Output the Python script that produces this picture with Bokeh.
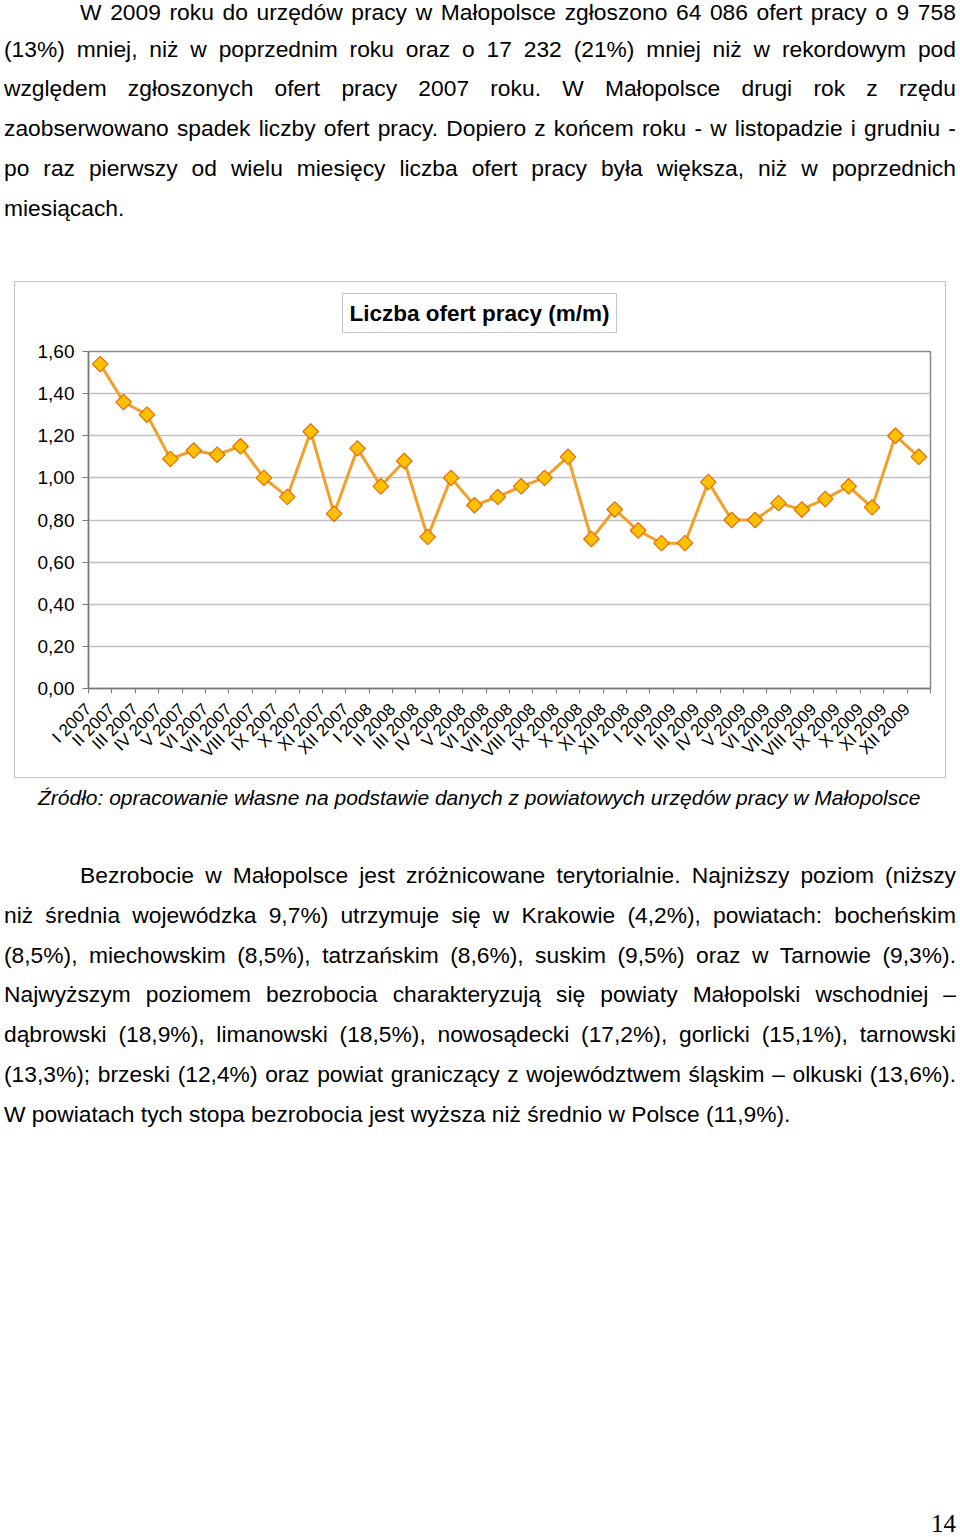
import math
from bokeh.plotting import figure
from bokeh.models import Range1d, FixedTicker, CustomJSTickFormatter, Div
from bokeh.layouts import column
from bokeh.embed import file_html
from bokeh.resources import INLINE

# ---------------- data ----------------
months = [
    "I 2007", "II 2007", "III 2007", "IV 2007", "V 2007", "VI 2007",
    "VII 2007", "VIII 2007", "IX 2007", "X 2007", "XI 2007", "XII 2007",
    "I 2008", "II 2008", "III 2008", "IV 2008", "V 2008", "VI 2008",
    "VII 2008", "VIII 2008", "IX 2008", "X 2008", "XI 2008", "XII 2008",
    "I 2009", "II 2009", "III 2009", "IV 2009", "V 2009", "VI 2009",
    "VII 2009", "VIII 2009", "IX 2009", "X 2009", "XI 2009", "XII 2009",
]
values = [
    1.54, 1.36, 1.30, 1.09, 1.13, 1.11, 1.15, 1.00, 0.91, 1.22, 0.83, 1.14,
    0.96, 1.08, 0.72, 1.00, 0.87, 0.91, 0.96, 1.00, 1.10, 0.71, 0.85, 0.75,
    0.69, 0.69, 0.98, 0.80, 0.80, 0.88, 0.85, 0.90, 0.96, 0.86, 1.20, 1.10,
]
y_ticks = [0.0, 0.2, 0.4, 0.6, 0.8, 1.0, 1.2, 1.4, 1.6]
chart_title = "Liczba ofert pracy (m/m)"
source_note = "Źródło: opracowanie własne na podstawie danych z powiatowych urzędów pracy w Małopolsce"
para1 = [
    "W 2009 roku do urzędów pracy w Małopolsce zgłoszono 64 086 ofert pracy o 9 758",
    "(13%) mniej, niż w poprzednim roku oraz o 17 232 (21%) mniej niż w rekordowym pod",
    "względem zgłoszonych ofert pracy 2007 roku. W Małopolsce drugi rok z rzędu",
    "zaobserwowano spadek liczby ofert pracy. Dopiero z końcem roku - w listopadzie i grudniu -",
    "po raz pierwszy od wielu miesięcy liczba ofert pracy była większa, niż w poprzednich",
    "miesiącach.",
]
para2 = [
    "Bezrobocie w Małopolsce jest zróżnicowane terytorialnie. Najniższy poziom (niższy",
    "niż średnia wojewódzka 9,7%) utrzymuje się w Krakowie (4,2%), powiatach: bocheńskim",
    "(8,5%), miechowskim (8,5%), tatrzańskim (8,6%), suskim (9,5%) oraz w Tarnowie (9,3%).",
    "Najwyższym poziomem bezrobocia charakteryzują się powiaty Małopolski wschodniej –",
    "dąbrowski (18,9%), limanowski (18,5%), nowosądecki (17,2%), gorlicki (15,1%), tarnowski",
    "(13,3%); brzeski (12,4%) oraz powiat graniczący z województwem śląskim – olkuski (13,6%).",
    "W powiatach tych stopa bezrobocia jest wyższa niż średnio w Polsce (11,9%).",
]
page_number = "14"

# ---------------- text helpers ----------------
FONT = "'Liberation Sans', Arial, sans-serif"


def para_html(lines, indent, first_h=None):
    out = []
    for k, ln in enumerate(lines):
        st = f"padding-left:{indent}px;" if k == 0 else ""
        if k == 0 and first_h is not None:
            st += f"line-height:{first_h}px;"
        if k < len(lines) - 1:
            spans = "".join(f"<span style='white-space:nowrap'>{w}</span>" for w in ln.split(" "))
            out.append(f"<div style='display:flex;justify-content:space-between;{st}'>{spans}</div>")
        else:
            out.append(f"<div style='white-space:nowrap;{st}'>{ln}</div>")
    return "".join(out)


html1 = (
    f"<div style=\"position:relative;top:-3.6px;left:4px;width:952px;font-family:{FONT};"
    f"font-size:22.8px;line-height:39.8px;color:#000;\">"
    + para_html(para1, 76, first_h=33.2)
    + "</div>"
)
div1 = Div(text=html1, width=960, height=272, margin=0, styles={"overflow": "visible"})

html2 = (
    f"<div style=\"position:relative;left:4px;width:952px;height:759px;font-family:{FONT};color:#000;\">"
    f"<div style='font-style:italic;font-size:21px;line-height:40px;padding-left:34px;white-space:nowrap'>{source_note}</div>"
    f"<div style='margin-top:38px;font-size:22.8px;line-height:39.8px'>" + para_html(para2, 76) + "</div>"
    f"<div style=\"position:absolute;left:927px;top:734px;font-family:'Liberation Serif',serif;font-size:25px;line-height:24px\">{page_number}</div>"
    "</div>"
)
div2 = Div(text=html2, width=960, height=759, margin=0, styles={"overflow": "visible"})

# ---------------- chart ----------------
x = [i + 0.5 for i in range(len(values))]

BC = "#c4c4c4"
frame_bg = (
    f"linear-gradient({BC},{BC}) 0 9px / 100% 1px no-repeat, "
    f"linear-gradient({BC},{BC}) 0 9px / 1px calc(100% - 9px) no-repeat, "
    f"linear-gradient({BC},{BC}) 100% 9px / 1px calc(100% - 9px) no-repeat, "
    f"linear-gradient({BC},{BC}) 0 100% / 100% 1px no-repeat, #ffffff"
)

p = figure(
    width=932, height=506,
    x_range=Range1d(0, len(values)), y_range=Range1d(0, 1.6),
    output_backend="svg", toolbar_location=None,
    min_border_left=74, min_border_right=16, min_border_top=79, min_border_bottom=90,
    title=chart_title,
    margin=(0, 0, 0, 14),
    styles={"background": frame_bg},
)
p.background_fill_color = "white"
p.border_fill_color = None
p.outline_line_color = "#8a8a8a"
p.outline_line_width = 1.5

p.title.align = "left"
p.title.offset = 254
p.title.standoff = 38
p.title.text_font = "Liberation Sans"
p.title.text_font_style = "bold"
p.title.text_font_size = "22.5px"
p.title.text_color = "#000000"
p.title.border_line_color = BC
p.title.border_line_width = 1
p.title.background_fill_color = "white"
p.title.padding = 7

p.xgrid.visible = False
p.ygrid.grid_line_color = "#c0c0c0"
p.ygrid.grid_line_width = 1.5

p.yaxis.ticker = FixedTicker(ticks=y_ticks)
p.yaxis.formatter = CustomJSTickFormatter(code="return tick.toFixed(2).replace('.', ',');")
p.yaxis.major_label_text_font = "Liberation Sans"
p.yaxis.major_label_text_font_size = "19px"
p.yaxis.major_label_text_color = "#000000"
p.yaxis.major_label_standoff = 8
p.yaxis.major_tick_out = 6
p.yaxis.major_tick_in = 0
p.yaxis.minor_tick_line_color = None
p.yaxis.axis_line_color = "#7a7a7a"
p.yaxis.axis_line_width = 1.5
p.yaxis.major_tick_line_color = "#7a7a7a"

p.xaxis.ticker = FixedTicker(ticks=list(range(len(values) + 1)))
p.xaxis.formatter = CustomJSTickFormatter(
    args=dict(labels=months),
    code="const i = Math.round(tick); return (i < labels.length) ? labels[i] : '';",
)
p.xaxis.major_label_orientation = math.pi / 4
p.xaxis.major_label_text_font = "Liberation Sans"
p.xaxis.major_label_text_font_size = "17px"
p.xaxis.major_label_text_color = "#000000"
p.xaxis.major_label_standoff = 13
p.xaxis.major_tick_out = 5
p.xaxis.major_tick_in = 0
p.xaxis.minor_tick_line_color = None
p.xaxis.axis_line_color = "#7a7a7a"
p.xaxis.axis_line_width = 1.5
p.xaxis.major_tick_line_color = "#7a7a7a"

p.line(x, values, line_color="#F2A02A", line_width=3)
p.scatter(x, values, marker="square", angle=math.pi / 4, size=11,
          fill_color="#FFC000", line_color="#E46C0A", line_width=1.2)

layout = column(div1, p, div2, spacing=0, margin=0)

open("out.html", "w").write(file_html(layout, INLINE))
